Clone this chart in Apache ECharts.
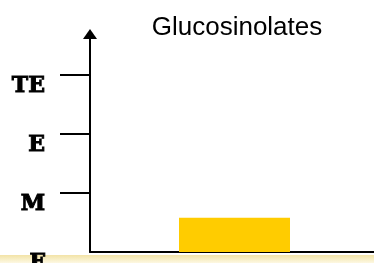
<!DOCTYPE html>
<html>
<head>
<meta charset="utf-8">
<script src="https://cdn.jsdelivr.net/npm/echarts@6/dist/echarts.min.js"></script>
<style>
  html, body { margin: 0; padding: 0; background: #fff; }
  #chart { width: 374px; height: 263px; }
</style>
</head>
<body>
<div id="chart"></div>
<script>
  // levels on the y axis (F=0 ... TE=3)
  var levelLabels = ['F', 'M', 'E', 'TE'];
  var levelValues = [0, 1, 2, 3];
  var categories = ['Glucosinolates'];
  var barValues = [0.58];

  var myChart = echarts.init(document.getElementById('chart'));

  var option = {
    animation: false,
    title: {
      text: 'Glucosinolates',
      left: 232,
      textAlign: 'center',
      top: 10,
      textStyle: {
        fontFamily: 'Liberation Sans, Arial',
        fontWeight: 'normal',
        fontSize: 26,
        color: '#000'
      }
    },
    grid: {
      left: 90,
      right: -5,
      top: 34,
      bottom: 11,
      outerBoundsMode: 'none',
      containLabel: false
    },
    xAxis: {
      type: 'category',
      data: categories,
      axisLine: { lineStyle: { color: '#000', width: 2 } },
      axisTick: { show: false },
      axisLabel: { show: false }
    },
    yAxis: {
      type: 'value',
      min: 0,
      max: 3.7,
      interval: 1,
      splitLine: { show: false },
      axisLine: {
        show: true,
        symbol: ['none', 'triangle'],
        symbolSize: [14, 10],
        lineStyle: { color: '#000', width: 2 }
      },
      axisTick: {
        show: true,
        length: 30,
        customValues: [1, 2, 3],
        lineStyle: { color: '#000', width: 2 }
      },
      axisLabel: {
        customValues: levelValues,
        margin: 45,
        verticalAlign: 'top',
        fontFamily: 'DejaVu Serif',
        fontWeight: 'bold',
        fontSize: 22,
        color: '#000',
        textBorderColor: '#000',
        textBorderWidth: 1,
        formatter: function (v) {
          return levelLabels[Math.round(v)];
        }
      }
    },
    graphic: [{
      type: 'rect',
      z: -1,
      shape: { x: 0, y: 255, width: 374, height: 8 },
      style: {
        fill: new echarts.graphic.LinearGradient(0, 0, 0, 1, [
          { offset: 0, color: '#f2e3a6' },
          { offset: 1, color: '#fdf8e2' }
        ])
      }
    }],
    series: [{
      type: 'bar',
      data: barValues,
      barWidth: 111,
      itemStyle: { color: '#ffcc00' }
    }]
  };

  myChart.setOption(option);
</script>
</body>
</html>
